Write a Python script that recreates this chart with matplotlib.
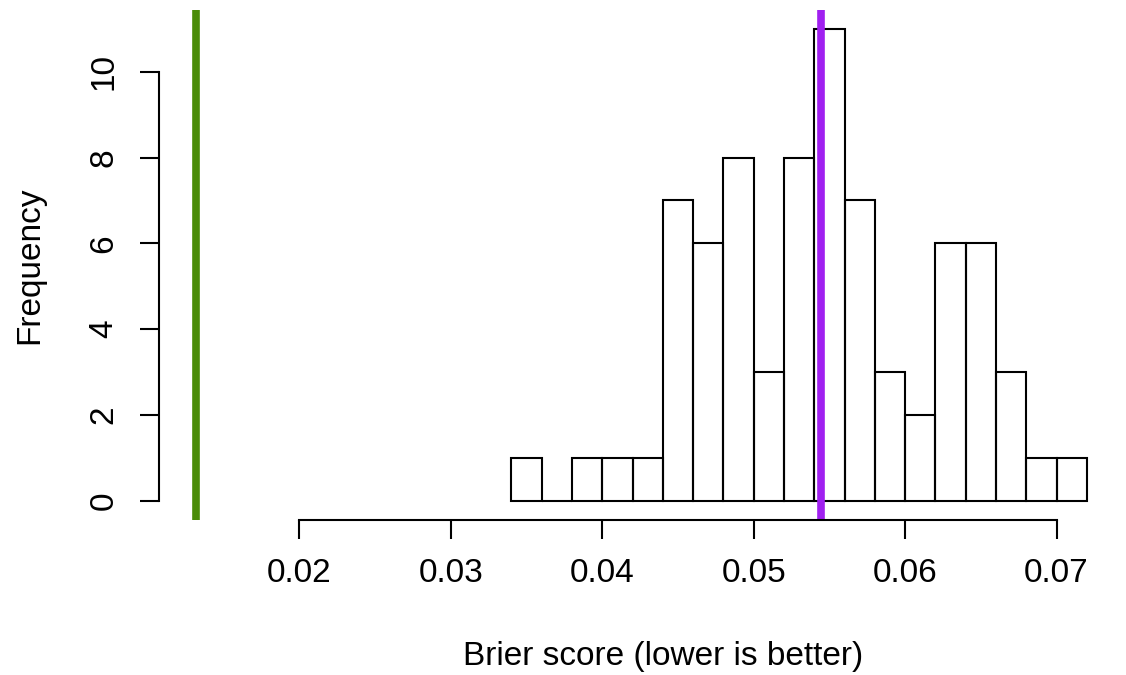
import numpy as np
import matplotlib
matplotlib.use("Agg")
import matplotlib.pyplot as plt

# histogram of Brier scores, bin width 0.002
bin_edges = np.round(np.arange(0.034, 0.0721, 0.002), 3)
counts = [1, 0, 1, 1, 1, 7, 6, 8, 3, 8, 11, 7, 3, 2, 6, 6, 3, 1, 1]
green_score = 0.01317
purple_score = 0.05446
xticks = [0.02, 0.03, 0.04, 0.05, 0.06, 0.07]
yticks = [0, 2, 4, 6, 8, 10]

plt.rcParams['font.family'] = ['Liberation Sans', 'DejaVu Sans']

W, H = 1126, 675
fig = plt.figure(figsize=(W / 100, H / 100), dpi=100)
ax = fig.add_axes([158.5 / W, 1 - 519.5 / H, (1120 - 158.5) / W, (519.5 - 10) / H])

ax.bar(bin_edges[:-1], counts, width=0.002, align='edge', fill=False,
       edgecolor='black', linewidth=1.5)
ax.axvline(green_score, color='#4a8c08', linewidth=5.5)
ax.axvline(purple_score, color='#a020f0', linewidth=5.5)

ax.set_xlim(0.01070, 0.07419)
ax.set_ylim(-0.44, 11.44)

for s in ['top', 'right']:
    ax.spines[s].set_visible(False)
ax.spines['left'].set_bounds(0, 10)
ax.spines['bottom'].set_bounds(0.02, 0.07)
for s in ['left', 'bottom']:
    ax.spines[s].set_linewidth(1.5)

ax.set_xticks(xticks)
ax.set_xticklabels([f"{t:.2f}" for t in xticks])
ax.set_yticks(yticks)
ax.set_yticklabels([str(t) for t in yticks], rotation=90, va='center')
ax.tick_params(length=14, width=1.5, labelsize=24, pad=14)

fig.text(663 / W, 1 - 656 / H, "Brier score (lower is better)", fontsize=24,
         ha='center', va='center')
fig.text(30 / W, 1 - 265 / H, "Frequency", fontsize=24, rotation=90,
         ha='center', va='center')

fig.savefig("out.png", dpi=100)
